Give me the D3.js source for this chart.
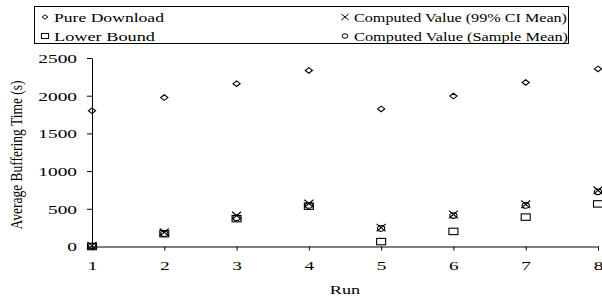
<!DOCTYPE html>
<html>
<head>
<meta charset="utf-8">
<script src="https://cdn.jsdelivr.net/npm/d3@7"></script>
<style>
    body { margin: 0; background: #fff; }
    svg { display: block; }
    svg text { font-family: "Liberation Serif", "DejaVu Serif", serif; fill: #000; }
</style>
</head>
<body>
<svg id="chart" width="602" height="300"></svg>
<script>
const runs = [1, 2, 3, 4, 5, 6, 7, 8];
const pureDownload = [1800, 1975, 2160, 2335, 1825, 1995, 2175, 2355];
const ciMean = [10, 190, 410, 570, 250, 425, 560, 745];
const sampleMean = [5, 170, 380, 545, 240, 410, 545, 725];
const lowerBound = [0, 170, 370, 535, 65, 200, 390, 565];
const yTicks = [0, 500, 1000, 1500, 2000, 2500];

// the source picture is stretched sideways, so text gets a horizontal scale
const STRETCH = 1.55;

const svg = d3.select('#chart');
const x = d3.scaleLinear().domain([1, 8]).range([92, 598]);
const y = d3.scaleLinear().domain([0, 2500]).range([246.5, 58]);

// axes
const yAxis = svg.append('g')
    .attr('transform', 'translate(92,0)')
    .call(d3.axisLeft(y).tickValues(yTicks).tickFormat(d3.format('d')).tickSize(5).tickSizeOuter(0));
yAxis.select('.domain').attr('stroke', '#000');
yAxis.selectAll('line').attr('stroke', '#000');
yAxis.selectAll('text')
    .attr('font-size', 12.5)
    .attr('x', -15 / STRETCH)
    .attr('dy', '0.35em')
    .attr('transform', `scale(${STRETCH},1)`);

const xAxis = svg.append('g')
    .attr('transform', 'translate(0,246.5)')
    .call(d3.axisBottom(x).tickValues(runs).tickFormat(d3.format('d')).tickSize(4).tickSizeOuter(0));
xAxis.select('.domain').attr('stroke', '#000');
xAxis.selectAll('line').attr('stroke', '#000');
xAxis.selectAll('text')
    .attr('font-size', 12.5)
    .attr('y', 24)
    .attr('dy', 0)
    .attr('transform', `scale(${STRETCH},1)`);

svg.append('text')
    .attr('transform', `translate(345,294) scale(1.4,1)`)
    .attr('text-anchor', 'middle')
    .attr('font-size', 13)
    .text('Run');

svg.append('text')
    .attr('transform', 'translate(22,155) rotate(-90) scale(1,1.3)')
    .attr('text-anchor', 'middle')
    .attr('font-size', 13.5)
    .text('Average Buffering Time (s)');

// marker shapes
const markers = {
    diamond: (g, k) => g.append('path').attr('d', `M0,${-2.8 * k}L${3.6 * k},0L0,${2.8 * k}L${-3.6 * k},0Z`),
    square: (g, k) => g.append('rect').attr('x', -4.5 * k).attr('y', -3.2 * k).attr('width', 9 * k).attr('height', 6.4 * k),
    cross: (g, k) => g.append('path').attr('d', `M${-4.5 * k},${-3.8 * k}L${4.5 * k},${3.8 * k}M${-4.5 * k},${3.8 * k}L${4.5 * k},${-3.8 * k}`),
    circle: (g, k) => g.append('ellipse').attr('rx', 3.6 * k).attr('ry', 2.8 * k)
};

function drawSeries(values, shape) {
    const pts = svg.append('g')
        .selectAll('g')
        .data(values)
        .join('g')
        .attr('transform', (d, i) => `translate(${x(runs[i])},${y(d)})`);
    pts.each(function () {
        markers[shape](d3.select(this), 1)
            .attr('fill', 'none')
            .attr('stroke', '#000')
            .attr('stroke-width', 1.1);
    });
}

drawSeries(lowerBound, 'square');
drawSeries(sampleMean, 'circle');
drawSeries(ciMean, 'cross');
drawSeries(pureDownload, 'diamond');

// legend
const legend = svg.append('g');
legend.append('rect')
    .attr('x', 34.5).attr('y', 6.5).attr('width', 534).attr('height', 37)
    .attr('fill', '#fff').attr('stroke', '#000');

const legendItems = [
    {label: 'Pure Download', shape: 'diamond', x: 45, y: 17, width: 110},
    {label: 'Lower Bound', shape: 'square', x: 45, y: 36, width: 101},
    {label: 'Computed Value (99% CI Mean)', shape: 'cross', x: 345, y: 17, width: 213},
    {label: 'Computed Value (Sample Mean)', shape: 'circle', x: 345, y: 36, width: 214}
];

legendItems.forEach(item => {
    const g = legend.append('g').attr('transform', `translate(${item.x},${item.y})`);
    markers[item.shape](g, 0.8).attr('fill', 'none').attr('stroke', '#000').attr('stroke-width', 1);
    g.append('text')
        .attr('x', 9).attr('y', 4.5)
        .attr('font-size', 12)
        .attr('textLength', item.width)
        .attr('lengthAdjust', 'spacingAndGlyphs')
        .text(item.label);
});
</script>
</body>
</html>
